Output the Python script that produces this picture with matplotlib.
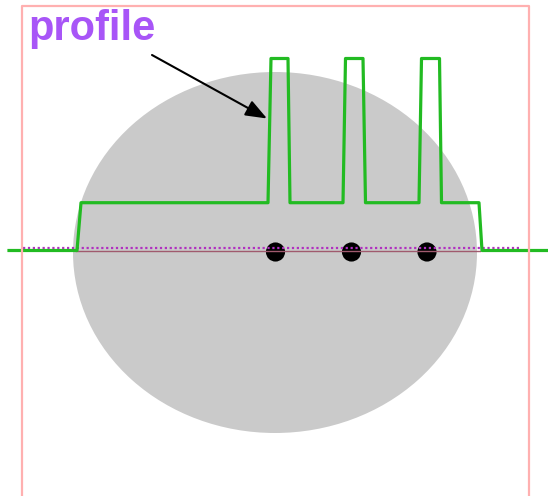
import matplotlib
matplotlib.use("Agg")
import matplotlib.pyplot as plt
from matplotlib.patches import Ellipse

# ---- data (pixel-like units, y measured upward from the sampling line) ----
profile_x = [9, 77, 81, 268, 271, 288, 290, 343, 345.5, 363, 365.5,
             419, 421.5, 439.5, 441.5, 479, 482, 548]
profile_y = [0, 0, 47.8, 47.8, 192, 192, 47.8, 47.8, 192, 192, 47.8,
             47.8, 192, 192, 47.8, 47.8, 0, 0]

dot_x = [275.5, 351.5, 427]
dot_y = [-1.5, -1.5, -1.5]

phantom_center = (275, -2)
phantom_width = 404
phantom_height = 361

dotted_x = [23, 520]
dotted_y = [3, 3]
sample_x = [76, 480]
sample_y = [-0.5, -0.5]

border_x = [22, 22, 529, 529]
border_y = [-250, 244.5, 244.5, -250]

label = "profile"

fig = plt.figure(figsize=(5.48, 4.96), dpi=100)
ax = fig.add_axes([0, 0, 1, 1])
ax.set_xlim(0, 548)
ax.set_ylim(250.5 - 496, 250.5)
ax.axis("off")

ax.add_patch(Ellipse(phantom_center, phantom_width, phantom_height,
                     facecolor="#cacaca", edgecolor="none", zorder=1))
ax.scatter(dot_x, dot_y, s=190, color="black", edgecolors="none", zorder=2)
ax.plot(sample_x, sample_y, color="#a05a6e", lw=1.0, zorder=3)
ax.plot(dotted_x, dotted_y, color="#b030c0", lw=1.6, ls=(0, (1, 1.2)), zorder=3)
ax.plot(profile_x, profile_y, color="#22bb22", lw=2.3, zorder=4,
        solid_joinstyle="round")
ax.plot(border_x, border_y, color="#ffb0b0", lw=1.6, zorder=5)

ax.text(28, 250.5 - 40, label, fontsize=30, fontweight="bold",
        family="Liberation Sans", color="#a855f7", ha="left", va="baseline",
        zorder=6)
ax.annotate("", xy=(267, 250.5 - 118.5), xytext=(152, 250.5 - 55),
            arrowprops=dict(arrowstyle="-|>,head_length=1.3,head_width=0.5",
                            color="black", lw=1.5, shrinkA=0, shrinkB=0),
            zorder=6)

fig.savefig("out.png", dpi=100)
